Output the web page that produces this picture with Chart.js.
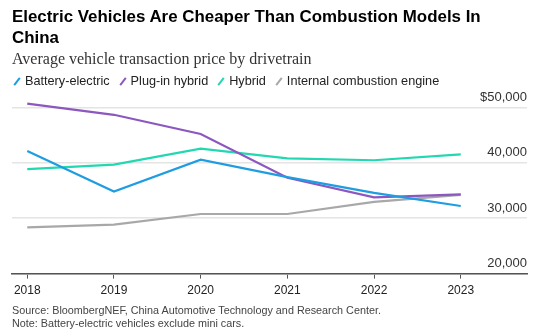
<!DOCTYPE html>
<html>
<head>
<meta charset="utf-8">
<script src="https://cdn.jsdelivr.net/npm/chart.js@4"></script>
<style>
  html, body { margin: 0; padding: 0; background: #fff; }
  body { width: 539px; height: 336px; position: relative; overflow: hidden; font-family: "Liberation Sans", Arial, sans-serif; }
  #chart { position: absolute; left: 0; top: 0; }
  .title { position: absolute; left: 12px; top: 6px; font-weight: bold; font-size: 16.9px; line-height: 21px; color: #000; }
  .subtitle { position: absolute; left: 12px; top: 50px; font-family: "Liberation Serif", serif; font-size: 16px; color: #333; }
  .legend { position: absolute; left: 12px; top: 74px; font-size: 12.7px; color: #222; white-space: nowrap; }
  .legend span.item { margin-right: 8px; }
  .legend i { display: inline-block; width: 2px; height: 9px; margin: 0 7px 0 4px; transform: rotate(38deg); vertical-align: -1px; }
  .footer { position: absolute; left: 12px; top: 304px; font-size: 10.8px; line-height: 13px; color: #444; }
</style>
</head>
<body>
<canvas id="chart" width="539" height="336"></canvas>
<div class="title">Electric Vehicles Are Cheaper Than Combustion Models In<br>China</div>
<div class="subtitle">Average vehicle transaction price by drivetrain</div>
<div class="legend" id="legend"></div>
<div class="footer">Source: BloombergNEF, China Automotive Technology and Research Center.<br>Note: Battery-electric vehicles exclude mini cars.</div>
<script>
// Data
const years = [2018, 2019, 2020, 2021, 2022, 2023];
const batteryElectric = [42100, 34800, 40550, 37400, 34550, 32200];
const plugInHybrid = [50650, 48650, 45200, 37300, 33750, 34300];
const hybrid = [38850, 39650, 42550, 40800, 40450, 41500];
const combustion = [28350, 28850, 30750, 30750, 32950, 34200];
const yTicks = [20000, 30000, 40000, 50000];

const series = [
  { label: 'Battery-electric', data: batteryElectric, color: '#1e9de0' },
  { label: 'Plug-in hybrid', data: plugInHybrid, color: '#8c58c0' },
  { label: 'Hybrid', data: hybrid, color: '#22d8b0' },
  { label: 'Internal combustion engine', data: combustion, color: '#a8a8a8' }
];

// html legend with slash markers
const legendEl = document.getElementById('legend');
series.forEach(s => {
  const item = document.createElement('span');
  item.className = 'item';
  item.innerHTML = `<i style="background:${s.color}"></i>${s.label}`;
  legendEl.appendChild(item);
});

new Chart(document.getElementById('chart'), {
  type: 'line',
  data: {
    datasets: series.map(s => ({
      label: s.label,
      data: years.map((yr, i) => ({ x: yr, y: s.data[i] })),
      borderColor: s.color,
      backgroundColor: s.color,
      borderWidth: 2.2,
      pointRadius: 0,
      tension: 0,
      fill: false
    }))
  },
  options: {
    responsive: false,
    animation: false,
    devicePixelRatio: 1,
    layout: { padding: { left: 12, right: 12, top: 99, bottom: 33 } },
    plugins: { legend: { display: false }, tooltip: { enabled: false } },
    scales: {
      x: {
        type: 'linear',
        min: 2017.824,
        max: 2023.764,
        ticks: {
          stepSize: 1,
          includeBounds: false,
          padding: 5,
          color: '#222',
          font: { family: 'Liberation Sans', size: 12 },
          callback: v => String(v)
        },
        grid: { drawOnChartArea: false, tickLength: 5, color: '#555', lineWidth: 1 },
        border: { color: '#555', width: 1.5 }
      },
      y: {
        position: 'right',
        min: 20000,
        max: 51500,
        afterBuildTicks: axis => { axis.ticks = yTicks.map(v => ({ value: v })); },
        ticks: {
          mirror: true,
          padding: 0,
          labelOffset: -10,
          color: '#333',
          font: { family: 'Liberation Sans', size: 13 },
          callback: v => (v === 50000 ? '$' : '') + v.toLocaleString('en-US')
        },
        grid: { drawTicks: false, color: '#e4e4e4', lineWidth: 1.5 },
        border: { display: false }
      }
    }
  }
});
</script>
</body>
</html>
